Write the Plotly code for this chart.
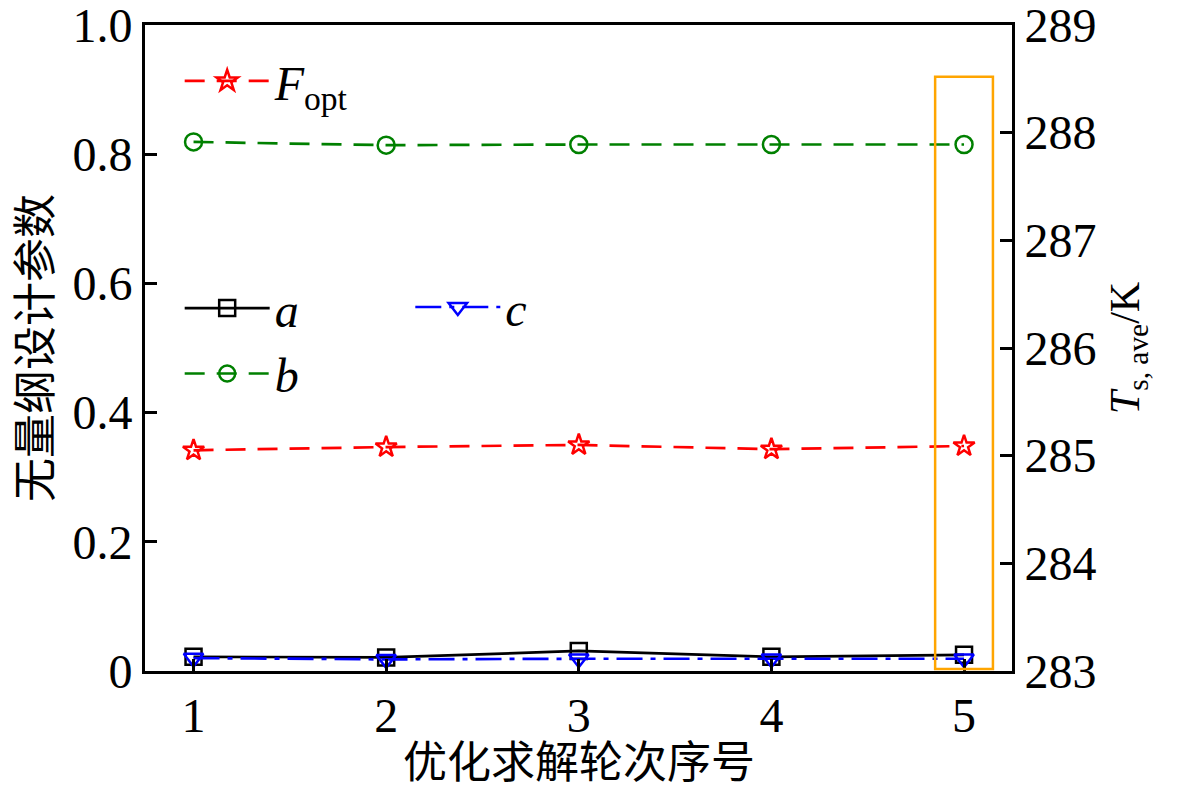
import plotly.graph_objects as go

# optimisation rounds
rounds = [1, 2, 3, 4, 5]

# dimensionless design parameters (left axis)
a = [0.022, 0.021, 0.031, 0.022, 0.025]
b = [0.819, 0.814, 0.815, 0.815, 0.815]
c = [0.020, 0.018, 0.019, 0.019, 0.019]

# F_opt read against the right axis (T_s,ave / K)
F_opt = [285.05, 285.08, 285.10, 285.06, 285.09]

left_ticks = [0, 0.2, 0.4, 0.6, 0.8, 1.0]
left_labels = ['0', '0.2', '0.4', '0.6', '0.8', '1.0']
right_ticks = [283, 284, 285, 286, 287, 288, 289]

serif = 'Liberation Serif, Times New Roman, Noto Sans CJK SC'
cjk = 'Noto Sans CJK SC'
fs = 48

fig = go.Figure()

fig.add_trace(go.Scatter(x=rounds, y=F_opt, yaxis='y2',
                         mode='lines+markers',
                         name='<i>F</i><sub>opt</sub>',
                         line=dict(color='#ff0000', width=2.7, dash='20px,12px'),
                         marker=dict(symbol='star-open', size=16,
                                     line=dict(color='#ff0000', width=2.5)),
                         legend='legend', showlegend=True
                         ))

fig.add_trace(go.Scatter(x=rounds, y=b,
                         mode='lines+markers',
                         name='<i>b</i>',
                         line=dict(color='#008000', width=2.7, dash='20px,12px'),
                         marker=dict(symbol='circle-open', size=17,
                                     line=dict(color='#008000', width=2.5)),
                         legend='legend2', showlegend=True
                         ))

fig.add_trace(go.Scatter(x=rounds, y=a,
                         mode='lines+markers',
                         name='<i>a</i>',
                         line=dict(color='black', width=2.7),
                         marker=dict(symbol='square-open', size=16,
                                     line=dict(color='black', width=2.5)),
                         legend='legend2', showlegend=True
                         ))

fig.add_trace(go.Scatter(x=rounds, y=c,
                         mode='lines+markers',
                         name='<i>c</i>',
                         line=dict(color='#0000ff', width=2.7,
                                   dash='26px,8px,5px,8px'),
                         marker=dict(symbol='triangle-down-open', size=17,
                                     line=dict(color='#0000ff', width=2.5)),
                         legend='legend3', showlegend=True
                         ))

# highlight box around round 5
fig.add_shape(type='rect', xref='x', yref='y',
              x0=4.85, x1=5.15, y0=0.003, y1=0.92,
              line=dict(color='#ffa500', width=2.5))

# x axis title as an annotation so it sits clear of the tick labels
fig.add_annotation(text='优化求解轮次序号', xref='paper', yref='paper',
                   x=0.5, y=0, yshift=-88, yanchor='middle',
                   showarrow=False,
                   font=dict(family=cjk, size=44, color='black'))

axis_common = dict(showline=True, linecolor='black', linewidth=3,
                   ticks='inside', ticklen=12, tickwidth=2.5,
                   tickcolor='black', showgrid=False, zeroline=False,
                   automargin=False, ticklabeloverflow='allow',
                   tickfont=dict(family=serif, size=fs, color='black'))

leg_common = dict(bgcolor='rgba(0,0,0,0)', itemwidth=85,
                  xanchor='left', yanchor='middle',
                  font=dict(family=serif, size=fs, color='black'))

fig.update_layout(
    width=1182, height=791,
    margin=dict(l=145, r=170, t=25, b=120),
    plot_bgcolor='white', paper_bgcolor='white',
    showlegend=True,
    xaxis=dict(range=[0.748, 5.249], tickvals=rounds, mirror=True,
               **axis_common),
    yaxis=dict(range=[0, 1.0], tickvals=left_ticks, ticktext=left_labels,
               title=dict(text='无量纲设计参数',
                          font=dict(family=cjk, size=44, color='black')),
               **axis_common),
    yaxis2=dict(range=[283, 289], tickvals=right_ticks, overlaying='y',
                side='right',
                title=dict(text='<i>T</i><sub>s, ave</sub>/K',
                           font=dict(family=serif, size=42, color='black')),
                **axis_common),
    legend=dict(x=0.040, y=0.913, **leg_common),
    legend2=dict(x=0.040, y=0.511, traceorder='reversed', **leg_common),
    legend3=dict(x=0.306, y=0.563, **leg_common),
)

# drop the default 8px page margin so the figure fills the window exactly
fig.write_html('out.html',
               config={'displayModeBar': False},
               post_script="document.body.style.margin='0';"
                           "document.body.style.overflow='hidden';")
